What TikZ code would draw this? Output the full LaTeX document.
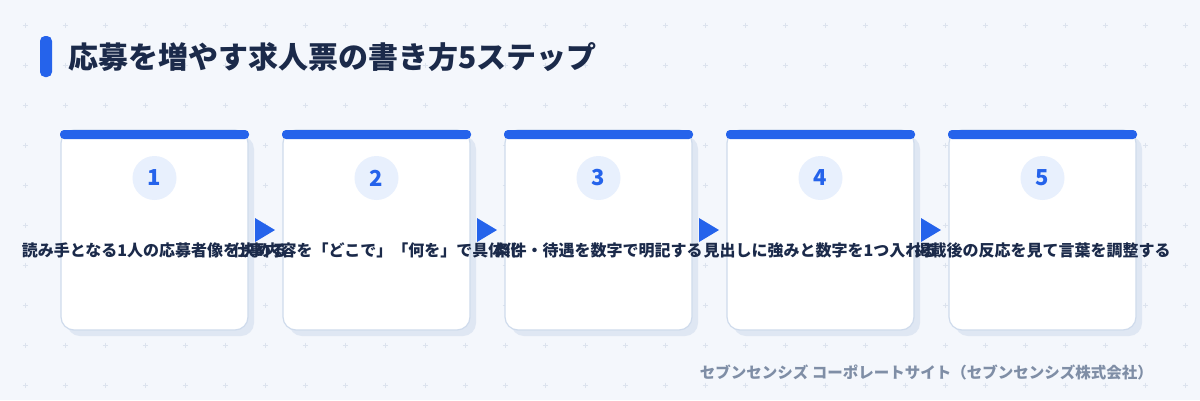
\documentclass[tikz,border=0pt]{standalone}
\usepackage{fontspec}
\setmainfont{Noto Sans CJK JP}
\usepackage{xcolor}
\usetikzlibrary{positioning,calc,shadows}

\definecolor{pagebg}{HTML}{F4F7FC}
\definecolor{gridmark}{HTML}{DCE3EE}
\definecolor{accent}{HTML}{2563EB}
\definecolor{inkdark}{HTML}{1B2A4A}
\definecolor{cardline}{HTML}{CFDBEC}
\definecolor{cardshade}{HTML}{DFE7F3}
\definecolor{numfill}{HTML}{E8F0FD}
\definecolor{footink}{HTML}{7F8EA6}

\tikzset{
	stepcard/.style={draw=cardline, line width=1.2pt, fill=white, rounded corners=13pt,
		minimum width=187pt, minimum height=200pt, inner sep=0pt, outer sep=0pt,
		drop shadow={shadow xshift=6pt, shadow yshift=-6pt, fill=cardshade, opacity=1}},
	stepnum/.style={circle, fill=numfill, minimum size=44pt, inner sep=0pt,
		text=accent, font=\bfseries\fontsize{22}{26}\selectfont},
	steptext/.style={text=inkdark, inner sep=0pt, font=\bfseries\fontsize{16}{20}\selectfont},
}

\begin{document}
\begin{tikzpicture}[x=1pt,y=-1pt]
			\fill[pagebg] (0,0) rectangle (1200,400);
			\useasboundingbox (0,0) rectangle (1200,400);
			\foreach \x in {25,65,...,1185}
				\foreach \y in {25,65,...,385}
					\draw[gridmark, line width=0.7pt] (\x-2.5,\y) -- (\x+2.5,\y) (\x,\y-2.5) -- (\x,\y+2.5);

			\fill[accent, rounded corners=5pt] (40,36) rectangle (52,77);
			\node[anchor=west, text=inkdark, inner sep=0pt, font=\bfseries\fontsize{30}{34}\selectfont] (title) at (68,57) {応募を増やす求人票の書き方5ステップ};

			\node[stepcard, anchor=north west] (card1) at (61,130) {};
			\node[stepcard, right=35pt of card1] (card2) {};
			\node[stepcard, right=35pt of card2] (card3) {};
			\node[stepcard, right=35pt of card3] (card4) {};
			\node[stepcard, right=35pt of card4] (card5) {};

			\foreach \i/\txt in {1/読み手となる1人の応募者像を決める,
				2/仕事内容を「どこで」「何を」で具体化,
				3/条件・待遇を数字で明記する,
				4/見出しに強みと数字を1つ入れる,
				5/掲載後の反応を見て言葉を調整する}
			{
				\fill[accent, rounded corners=4pt] ($(card\i.north west)+(-1,0)$) rectangle ($(card\i.north east)+(1,9)$);
				\node[stepnum] (num\i) at ($(card\i.north)+(0,48)$) {\i};
				\node[steptext] (lbl\i) at ($(card\i.north)+(0,120)$) {\txt};
			}

			\foreach \i in {1,...,4}
				\fill[accent] ($(card\i.east)+(7,-12)$) -- ++(20,12) -- ++(-20,12) -- cycle;

			\node[anchor=east, text=footink, inner sep=0pt, font=\bfseries\fontsize{15.5}{18}\selectfont] (credit) at (1153,372) {セブンセンシズ コーポレートサイト（セブンセンシズ株式会社）};
		\end{tikzpicture}
\end{document}
